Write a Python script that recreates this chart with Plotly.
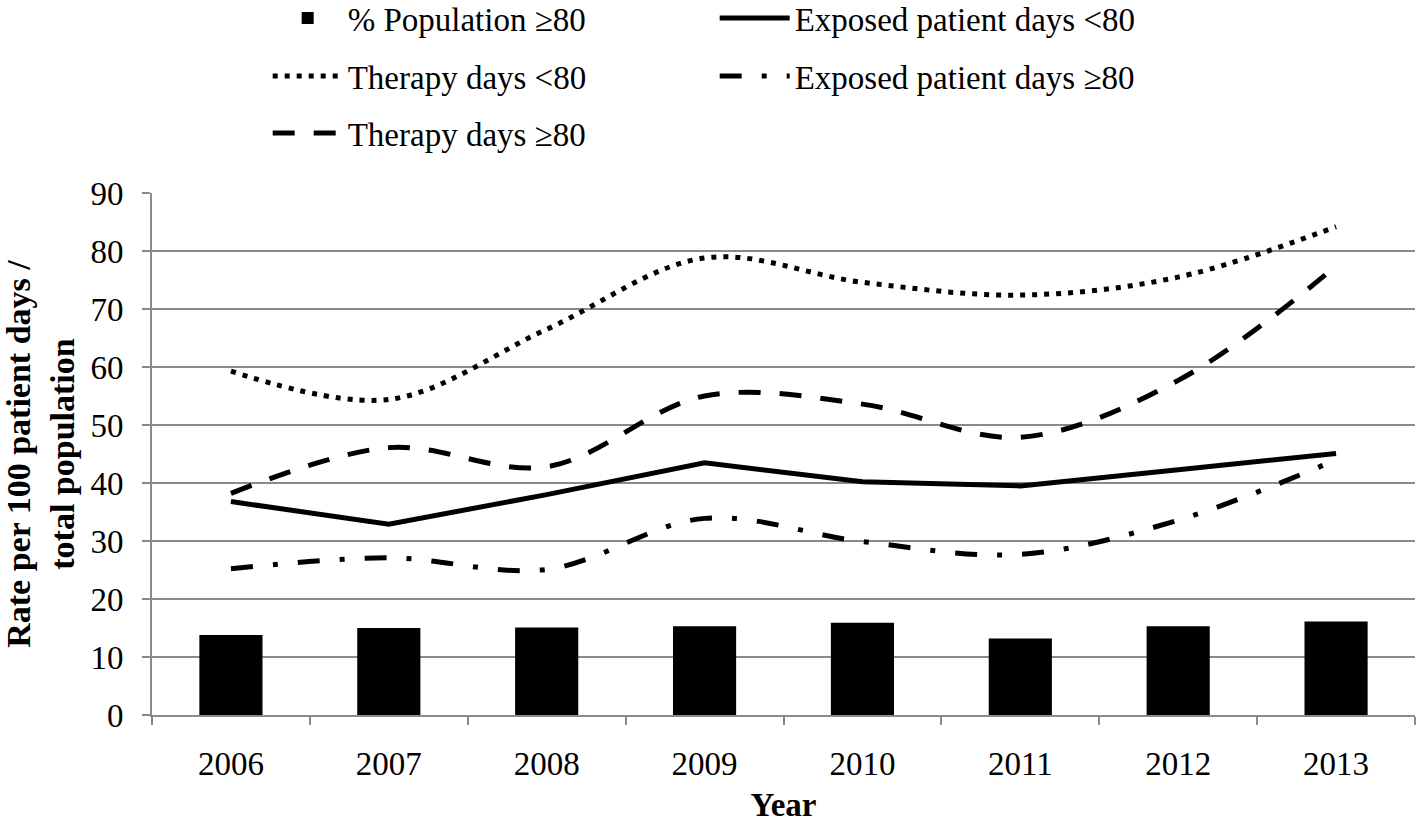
import plotly.graph_objects as go

years = ["2006", "2007", "2008", "2009", "2010", "2011", "2012", "2013"]
pop_ge80 = [13.8, 15.0, 15.1, 15.3, 15.9, 13.2, 15.3, 16.1]
exposed_lt80 = [36.8, 32.9, 38.0, 43.5, 40.2, 39.5, 42.3, 45.1]
therapy_lt80 = [59.3, 54.4, 66.5, 78.8, 74.6, 72.4, 75.5, 84.2]
exposed_ge80 = [25.2, 27.1, 25.1, 33.9, 29.9, 27.7, 33.6, 44.0]
therapy_ge80 = [38.2, 46.1, 42.8, 55.0, 53.6, 47.9, 57.7, 77.4]

FONT = "Liberation Serif, Times New Roman, serif"
GRID = "#8a8a8a"

fig = go.Figure()
fig.add_trace(go.Bar(x=years, y=pop_ge80, name="% Population ≥80",
                     marker=dict(color="black", line=dict(width=0)),
                     width=0.4, legend="legend"))
fig.add_trace(go.Scatter(x=years, y=exposed_lt80, name="Exposed patient days <80",
                         mode="lines", line=dict(color="black", width=5),
                         legend="legend"))
fig.add_trace(go.Scatter(x=years, y=therapy_lt80, name="Therapy days <80",
                         mode="lines", line=dict(color="black", width=5, dash="5px,7px",
                                                 shape="spline", smoothing=1),
                         legend="legend2"))
fig.add_trace(go.Scatter(x=years, y=exposed_ge80, name="Exposed patient days ≥80",
                         mode="lines", line=dict(color="black", width=5,
                                                 dash="22px,20px,5px,20px",
                                                 shape="spline", smoothing=1),
                         legend="legend2"))
fig.add_trace(go.Scatter(x=years, y=therapy_ge80, name="Therapy days ≥80",
                         mode="lines", line=dict(color="black", width=5, dash="22px,19px",
                                                 shape="spline", smoothing=1),
                         legend="legend3"))

legend_common = dict(orientation="h", xanchor="left", yanchor="middle",
                     x=0.0916, entrywidth=362, entrywidthmode="pixels", itemwidth=70,
                     font=dict(family=FONT, size=33, color="black"),
                     bgcolor="rgba(0,0,0,0)", borderwidth=0, traceorder="normal")

fig.update_layout(
    width=1418, height=823,
    margin=dict(l=152, r=3, t=193, b=108, autoexpand=False),
    paper_bgcolor="white", plot_bgcolor="white",
    font=dict(family=FONT, size=33, color="black"),
    bargap=0.6,
    legend=dict(y=1.335, **legend_common),
    legend2=dict(y=1.224, **legend_common),
    legend3=dict(y=1.115, **legend_common),
    xaxis=dict(
        type="category", showgrid=False, showline=True, linecolor=GRID, linewidth=2,
        ticks="outside", ticklen=8, tickwidth=2, tickcolor=GRID, tickson="boundaries",
        ticklabelstandoff=18, automargin=False,
        tickfont=dict(family=FONT, size=33, color="black"),
        title=dict(text="<b>Year</b>", font=dict(family=FONT, size=33, color="black"),
                   standoff=12),
    ),
    yaxis=dict(
        range=[0, 90], dtick=10, tick0=0, showgrid=True, gridcolor=GRID, gridwidth=2,
        showline=True, linecolor=GRID, linewidth=2, zeroline=False,
        ticks="outside", ticklen=8, tickwidth=2, tickcolor=GRID,
        ticklabelstandoff=12, automargin=False,
        tickfont=dict(family=FONT, size=33, color="black"),
        title=dict(text="<b>Rate per 100 patient days /<br>total population</b>",
                   font=dict(family=FONT, size=34, color="black"), standoff=10),
    ),
)

fig.write_html("out.html", config={"displayModeBar": False},
               post_script="document.body.style.margin='0';")
